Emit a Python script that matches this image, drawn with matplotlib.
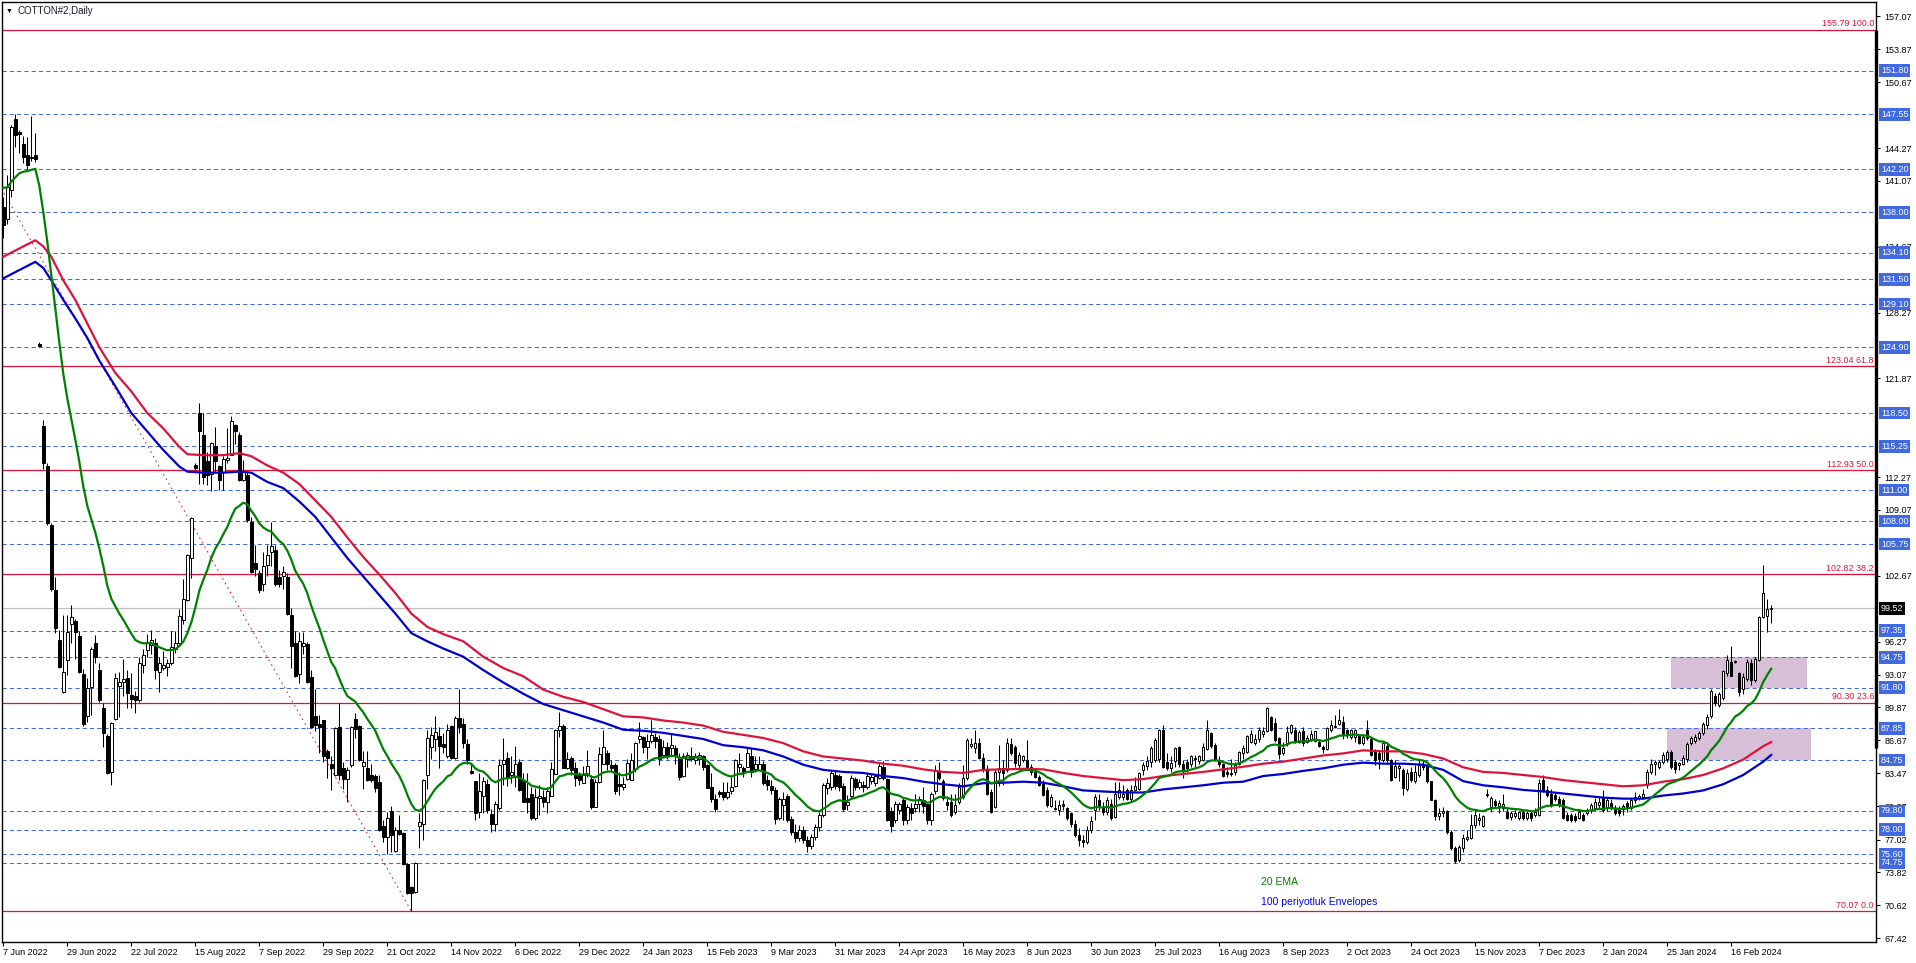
import numpy as np
import pandas as pd
import matplotlib
matplotlib.use("Agg")
import matplotlib.pyplot as plt
from matplotlib.patches import Rectangle
from matplotlib import transforms

plt.rcParams['font.family'] = ['Liberation Sans', 'DejaVu Sans']

# daily OHLC, one value per bar (443 bars, 7 Jun 2022 .. early Mar 2024)
opens = [
    138.5, 137.4, 140.2, 147.1, 145.8, 144.7, 143.6, 143.4, 143.6, 125.2,
    117.2, 113.3, 107.6, 101.3, 96.4, 91.4, 94.5, 98.0, 98.3, 96.8,
    93.1, 89.0, 91.9, 96.1, 93.5, 89.8, 87.1, 83.6, 88.7, 92.0,
    92.3, 92.7, 91.1, 91.0, 90.6, 94.0, 95.5, 95.9, 96.1, 93.3,
    93.7, 93.8, 94.2, 95.6, 96.1, 98.4, 100.3, 104.4, 113.4, 118.5,
    116.4, 113.8, 112.6, 115.3, 113.3, 112.8, 113.9, 114.4, 117.3, 116.4,
    112.0, 112.5, 107.9, 103.9, 102.9, 101.9, 103.7, 105.0, 105.2, 102.6,
    102.7, 102.6, 98.9, 96.1, 93.1, 95.8, 96.0, 92.8, 89.0, 88.3,
    88.6, 85.6, 84.4, 83.3, 88.0, 84.0, 82.9, 84.3, 88.7, 88.1,
    84.2, 84.0, 83.3, 83.2, 82.6, 78.3, 77.3, 79.8, 75.9, 78.0,
    77.7, 74.6, 72.4, 71.9, 78.3, 78.5, 83.3, 86.0, 86.8, 87.1,
    86.3, 85.1, 88.1, 85.0, 88.8, 88.3, 86.3, 83.7, 82.7, 79.7,
    81.3, 82.4, 79.5, 78.5, 80.1, 84.4, 85.0, 83.3, 83.1, 84.6,
    82.8, 81.1, 81.5, 79.1, 81.1, 81.2, 80.7, 81.3, 83.4, 87.7,
    88.1, 84.0, 85.0, 84.0, 83.3, 82.5, 83.3, 82.9, 80.2, 82.6,
    84.4, 85.4, 84.3, 84.3, 82.4, 82.1, 82.9, 82.8, 83.9, 86.8,
    87.0, 86.0, 86.6, 87.0, 86.8, 85.2, 86.0, 85.9, 85.9, 85.0,
    83.2, 84.9, 85.1, 84.8, 84.9, 85.1, 84.3, 82.1, 81.0, 81.6,
    81.6, 81.2, 81.7, 82.2, 84.1, 84.0, 84.1, 85.1, 83.9, 83.8,
    84.4, 82.8, 82.2, 81.8, 79.1, 80.4, 81.3, 79.0, 77.8, 77.2,
    78.0, 77.0, 76.4, 77.3, 78.2, 79.4, 82.0, 82.1, 83.3, 83.2,
    82.2, 80.4, 81.3, 82.9, 82.1, 82.3, 82.1, 82.7, 82.5, 83.0,
    84.1, 82.9, 79.8, 78.9, 79.9, 80.9, 78.9, 80.1, 80.1, 80.5,
    80.9, 80.5, 78.9, 81.7, 83.7, 82.7, 80.7, 80.7, 79.7, 80.7,
    81.2, 83.0, 86.1, 85.9, 86.4, 85.0, 83.9, 81.6, 80.2, 83.6,
    84.0, 83.8, 86.3, 86.0, 84.3, 84.8, 84.8, 84.1, 83.6, 83.1,
    82.4, 81.8, 80.3, 80.1, 79.9, 80.5, 80.1, 79.6, 78.5, 77.5,
    77.0, 76.8, 78.0, 79.9, 80.9, 80.2, 79.7, 80.5, 79.2, 81.2,
    81.2, 81.8, 81.0, 81.8, 81.9, 83.8, 84.2, 84.6, 84.8, 84.9,
    87.7, 84.6, 84.0, 84.7, 86.0, 84.4, 84.6, 84.4, 84.9, 84.7,
    84.8, 85.8, 87.4, 86.2, 84.8, 84.4, 83.6, 83.5, 83.6, 84.4,
    85.4, 85.5, 86.5, 86.4, 86.8, 87.3, 87.6, 88.9, 88.4, 86.9,
    85.4, 86.4, 87.5, 87.7, 86.5, 87.6, 86.5, 86.8, 86.6, 86.5,
    86.0, 85.8, 87.7, 88.0, 88.3, 88.5, 87.7, 87.0, 87.0, 87.1,
    86.4, 87.7, 86.8, 85.6, 85.4, 84.8, 86.1, 84.8, 83.1, 84.0,
    83.8, 81.9, 83.6, 82.7, 83.3, 84.3, 84.2, 82.7, 80.9, 79.3,
    79.6, 79.8, 77.8, 76.2, 75.0, 76.2, 77.1, 77.2, 78.4, 78.9,
    78.3, 81.4, 80.2, 80.8, 80.3, 80.1, 79.7, 79.2, 79.3, 79.1,
    79.7, 79.1, 79.6, 79.4, 79.4, 82.8, 81.8, 81.5, 81.4, 81.0,
    80.9, 79.4, 79.4, 79.3, 79.1, 79.4, 79.6, 79.9, 80.1, 80.4,
    81.2, 80.1, 80.6, 80.1, 79.9, 80.0, 80.6, 80.1, 80.9, 81.1,
    81.2, 82.3, 83.6, 84.4, 84.1, 84.6, 84.9, 85.5, 84.6, 84.3,
    84.4, 84.9, 86.4, 86.6, 86.9, 87.4, 88.2, 89.0, 91.0, 90.1,
    90.8, 93.2, 94.3, 94.3, 93.2, 91.7, 92.6, 94.2, 92.5, 94.5,
    98.7, 98.8, 99.45,
]
highs = [
    139.5, 141.6, 146.5, 147.6, 146.0, 145.4, 145.3, 147.4, 145.7, 125.4,
    117.8, 113.6, 107.8, 102.6, 97.4, 98.9, 98.9, 99.8, 98.5, 97.3,
    93.6, 92.7, 95.7, 96.9, 94.2, 90.3, 87.3, 88.5, 93.2, 93.3,
    94.6, 93.5, 93.2, 91.5, 94.8, 95.6, 97.0, 97.4, 96.6, 94.8,
    95.4, 94.6, 97.3, 97.3, 99.4, 102.4, 104.8, 108.4, 113.6, 119.5,
    118.5, 114.7, 115.7, 117.1, 113.4, 114.3, 117.0, 118.2, 117.4, 116.7,
    113.9, 112.9, 108.4, 105.7, 103.2, 105.0, 105.7, 107.9, 105.7, 103.2,
    103.6, 102.9, 99.5, 97.3, 97.2, 97.2, 96.2, 93.5, 91.7, 89.1,
    88.6, 85.8, 85.1, 88.0, 90.3, 84.6, 84.1, 88.1, 89.3, 88.2,
    85.6, 85.6, 84.4, 83.4, 83.3, 78.9, 79.7, 80.3, 78.2, 79.4,
    77.8, 74.7, 72.5, 74.8, 79.6, 82.9, 87.7, 88.0, 89.0, 88.0,
    87.4, 88.3, 88.2, 89.0, 91.7, 88.8, 86.8, 84.4, 82.7, 83.5,
    83.1, 82.9, 80.0, 80.8, 84.9, 86.9, 85.5, 85.1, 86.1, 84.9,
    83.5, 83.5, 82.1, 82.0, 82.3, 81.8, 82.1, 84.6, 87.8, 89.4,
    88.3, 85.5, 85.1, 84.6, 83.6, 84.2, 85.7, 83.3, 82.9, 86.0,
    87.7, 85.7, 84.8, 84.5, 83.6, 83.1, 84.9, 85.4, 86.5, 88.5,
    87.1, 87.3, 88.6, 87.4, 87.2, 86.7, 86.5, 87.3, 86.2, 85.4,
    85.4, 85.5, 86.0, 85.4, 85.5, 85.2, 84.4, 83.5, 81.5, 81.8,
    82.6, 82.6, 83.1, 84.9, 85.4, 84.2, 85.9, 85.9, 85.1, 85.1,
    84.7, 83.3, 82.8, 82.1, 81.2, 81.6, 81.5, 79.3, 78.5, 78.4,
    78.3, 77.4, 77.6, 78.5, 79.7, 82.5, 83.0, 83.8, 83.7, 83.4,
    82.5, 81.4, 83.3, 83.1, 82.9, 82.7, 83.4, 83.4, 83.4, 84.5,
    84.7, 83.0, 80.2, 80.8, 80.7, 81.2, 80.5, 80.6, 81.5, 81.3,
    82.1, 80.6, 81.6, 84.3, 84.6, 82.9, 81.3, 81.5, 81.5, 82.5,
    84.3, 86.9, 86.9, 87.7, 86.9, 85.4, 84.3, 81.9, 83.8, 86.2,
    84.8, 86.9, 86.9, 86.2, 85.5, 85.2, 86.7, 84.4, 83.9, 83.3,
    82.8, 82.1, 81.5, 80.9, 80.9, 80.9, 80.2, 79.7, 78.9, 78.1,
    77.5, 78.3, 79.3, 81.5, 81.5, 80.7, 81.2, 81.0, 82.6, 82.6,
    82.3, 82.0, 82.3, 83.1, 83.6, 84.6, 85.1, 86.1, 86.9, 87.8,
    88.2, 85.4, 85.1, 86.0, 86.1, 84.8, 84.9, 85.2, 85.2, 85.2,
    86.4, 88.6, 87.5, 86.4, 85.1, 84.5, 84.1, 84.9, 84.6, 85.6,
    86.2, 87.2, 87.7, 87.3, 88.0, 88.0, 89.9, 89.0, 88.8, 87.0,
    86.5, 88.1, 88.3, 88.0, 87.7, 88.0, 87.2, 87.7, 87.6, 86.8,
    86.2, 88.0, 88.6, 89.1, 89.7, 89.0, 87.8, 87.8, 87.8, 87.3,
    87.3, 88.6, 87.0, 85.8, 85.6, 86.6, 86.4, 84.9, 84.8, 84.4,
    84.0, 83.9, 84.1, 84.3, 84.9, 84.8, 84.4, 82.7, 81.0, 80.1,
    80.2, 79.9, 78.0, 76.4, 76.5, 77.6, 78.0, 79.5, 79.9, 79.6,
    79.4, 81.9, 81.3, 81.0, 80.9, 81.5, 80.1, 79.8, 79.9, 79.8,
    79.9, 79.8, 79.8, 80.1, 82.9, 83.3, 82.2, 81.9, 81.6, 81.3,
    81.1, 79.7, 79.6, 79.6, 79.9, 79.6, 80.1, 80.6, 81.1, 81.2,
    81.8, 81.1, 81.0, 80.4, 80.3, 80.5, 80.8, 81.1, 81.6, 81.5,
    81.9, 83.9, 84.9, 84.8, 84.8, 85.5, 85.7, 85.7, 84.8, 84.6,
    85.2, 86.5, 87.1, 87.3, 87.6, 88.5, 89.2, 91.7, 91.3, 91.4,
    93.5, 95.0, 95.8, 94.5, 93.3, 93.2, 94.6, 94.6, 94.8, 98.8,
    103.7, 100.4, 99.8,
]
lows = [
    135.5, 136.9, 139.5, 144.4, 143.8, 142.8, 142.2, 143.0, 142.9, 124.9,
    113.1, 107.6, 101.2, 97.1, 93.7, 91.3, 93.0, 96.1, 94.6, 93.2,
    88.1, 88.5, 89.1, 94.2, 90.4, 86.0, 83.4, 82.3, 88.6, 88.9,
    91.0, 89.8, 89.8, 89.3, 90.4, 93.2, 94.8, 95.1, 92.6, 91.4,
    93.5, 92.9, 94.0, 95.2, 96.0, 98.0, 100.2, 102.5, 113.0, 111.6,
    111.6, 111.5, 110.9, 112.8, 111.0, 111.0, 113.6, 114.4, 115.5, 111.9,
    111.9, 107.9, 102.9, 102.7, 101.0, 101.2, 102.7, 103.6, 101.7, 101.6,
    101.4, 98.9, 93.7, 92.8, 92.2, 95.1, 92.2, 87.9, 87.6, 85.4,
    84.6, 83.0, 81.8, 83.2, 82.8, 81.9, 80.7, 84.1, 86.9, 84.7,
    81.9, 82.7, 82.6, 81.6, 77.9, 76.8, 75.6, 75.8, 75.8, 77.5,
    74.5, 71.7, 70.07, 71.8, 76.2, 77.0, 81.9, 84.9, 85.6, 84.0,
    85.4, 85.0, 84.9, 84.9, 87.4, 85.9, 84.4, 83.4, 78.9, 79.1,
    79.6, 79.6, 77.8, 77.9, 79.9, 82.3, 82.2, 82.5, 82.1, 81.7,
    80.7, 79.6, 78.9, 78.9, 79.4, 80.2, 79.6, 81.3, 83.4, 87.0,
    84.0, 83.9, 83.3, 82.2, 82.3, 82.5, 83.1, 80.0, 80.2, 82.5,
    84.4, 83.8, 83.6, 81.5, 81.4, 81.8, 82.8, 82.8, 83.6, 86.4,
    85.4, 84.9, 86.4, 85.9, 84.3, 85.0, 84.9, 85.2, 84.4, 82.8,
    83.1, 84.1, 84.7, 84.4, 84.3, 83.8, 82.0, 80.7, 79.7, 81.2,
    80.9, 81.0, 81.5, 82.1, 83.6, 83.1, 84.1, 83.1, 83.6, 83.8,
    82.3, 81.8, 81.5, 78.5, 78.9, 78.9, 78.7, 77.5, 76.8, 76.9,
    76.7, 75.8, 76.1, 77.0, 77.9, 79.2, 81.5, 81.8, 81.9, 81.7,
    79.8, 79.9, 81.1, 81.8, 81.9, 81.6, 81.9, 82.4, 82.2, 82.9,
    82.8, 78.8, 77.8, 78.6, 79.5, 78.4, 78.5, 78.9, 79.7, 79.7,
    79.6, 78.5, 78.4, 81.5, 82.8, 80.9, 79.9, 79.2, 79.5, 80.5,
    81.0, 82.8, 85.9, 85.4, 84.9, 83.6, 81.4, 79.6, 80.1, 82.2,
    82.3, 83.6, 85.2, 84.1, 83.8, 84.6, 83.8, 83.3, 83.0, 82.2,
    81.3, 80.2, 80.2, 79.9, 79.4, 79.9, 78.9, 78.2, 77.3, 76.4,
    76.3, 76.6, 77.7, 78.9, 79.9, 79.4, 79.4, 78.9, 79.1, 81.0,
    80.9, 80.9, 80.7, 81.7, 81.8, 83.3, 83.8, 84.1, 84.6, 84.6,
    84.0, 83.8, 83.6, 84.1, 84.1, 83.0, 83.6, 84.1, 84.1, 84.4,
    84.7, 85.7, 85.9, 84.7, 84.1, 83.1, 83.1, 83.2, 83.3, 84.3,
    84.9, 85.4, 86.4, 86.2, 86.5, 87.0, 87.5, 87.6, 86.5, 84.9,
    85.2, 86.1, 87.3, 86.4, 86.4, 86.1, 86.4, 86.6, 86.5, 86.0,
    85.4, 85.7, 87.5, 87.9, 88.2, 86.8, 86.9, 86.8, 86.5, 86.3,
    86.2, 86.7, 85.1, 84.3, 83.9, 84.6, 84.6, 82.7, 83.0, 82.7,
    81.4, 81.7, 82.6, 82.5, 83.1, 83.8, 82.5, 80.9, 78.9, 78.9,
    79.2, 77.6, 76.0, 74.7, 74.8, 75.8, 76.9, 77.1, 78.1, 78.4,
    78.2, 81.2, 79.7, 80.1, 79.6, 79.8, 79.0, 78.9, 79.1, 78.9,
    78.9, 78.9, 78.8, 79.2, 79.3, 81.6, 81.2, 80.2, 80.8, 80.2,
    79.0, 78.8, 78.7, 78.7, 79.0, 78.8, 79.4, 79.6, 79.9, 80.1,
    79.7, 79.8, 79.9, 79.4, 79.3, 79.4, 79.7, 79.9, 80.6, 80.9,
    81.0, 82.0, 83.4, 83.3, 83.9, 84.4, 84.6, 83.9, 83.5, 83.8,
    84.3, 84.6, 86.2, 86.4, 86.7, 87.2, 87.8, 88.8, 90.0, 89.9,
    90.6, 92.9, 92.9, 94.2, 91.0, 91.2, 92.4, 92.1, 92.3, 94.4,
    98.6, 97.2, 98.1,
]
closes = [
    136.8, 140.5, 146.3, 145.5, 145.6, 143.4, 142.6, 143.3, 143.2, 125.0,
    113.6, 107.8, 101.4, 97.6, 93.8, 93.3, 97.2, 98.7, 97.2, 93.3,
    88.3, 91.8, 95.6, 94.8, 90.6, 87.4, 83.5, 88.4, 92.7, 92.3,
    92.6, 91.3, 90.7, 90.6, 94.2, 95.0, 96.2, 96.4, 93.5, 94.2,
    94.0, 94.2, 95.7, 96.1, 98.8, 100.4, 104.7, 108.3, 113.2, 116.8,
    112.3, 112.5, 115.6, 113.8, 112.0, 114.0, 114.1, 117.7, 116.8, 112.0,
    112.8, 108.1, 103.0, 103.3, 101.3, 103.6, 104.7, 105.6, 101.9, 101.9,
    103.0, 99.0, 95.8, 92.9, 96.3, 96.1, 92.3, 88.0, 88.2, 88.0,
    85.1, 85.0, 84.0, 87.9, 83.3, 82.9, 83.8, 88.0, 87.8, 84.8,
    84.6, 82.8, 82.8, 82.0, 78.0, 77.3, 79.1, 77.5, 78.0, 77.6,
    74.6, 71.8, 71.8, 74.7, 78.7, 82.8, 86.9, 87.2, 87.5, 86.1,
    86.0, 87.7, 85.0, 88.8, 88.0, 86.4, 84.8, 83.5, 79.6, 81.7,
    82.7, 79.9, 78.5, 80.5, 84.3, 84.8, 83.1, 83.6, 84.4, 81.8,
    80.7, 80.7, 79.1, 81.2, 81.3, 80.7, 81.7, 83.9, 87.7, 88.1,
    84.0, 84.9, 83.8, 83.0, 82.8, 83.3, 84.2, 80.2, 82.6, 85.3,
    86.0, 84.4, 84.0, 81.7, 82.2, 82.4, 84.5, 84.8, 86.4, 87.1,
    86.0, 86.6, 87.2, 86.6, 84.9, 86.0, 85.2, 86.2, 85.1, 83.1,
    85.1, 85.2, 84.9, 85.1, 85.2, 84.1, 82.0, 81.0, 80.0, 81.5,
    81.2, 81.6, 82.1, 84.8, 84.4, 83.6, 85.4, 83.6, 84.4, 84.4,
    82.5, 82.3, 81.8, 79.0, 81.0, 81.0, 78.9, 77.8, 77.2, 78.0,
    77.0, 76.4, 77.3, 78.2, 79.4, 82.3, 82.5, 83.5, 82.2, 82.1,
    80.0, 80.7, 83.0, 82.1, 82.6, 82.1, 83.2, 83.1, 83.2, 84.2,
    83.0, 78.9, 78.3, 80.5, 80.5, 78.9, 80.2, 79.6, 80.5, 81.0,
    80.3, 78.9, 81.5, 83.7, 83.0, 81.1, 80.4, 79.4, 80.4, 82.1,
    83.0, 86.7, 86.3, 86.4, 85.0, 83.9, 81.5, 79.7, 83.6, 84.0,
    83.5, 86.4, 85.4, 84.5, 85.2, 85.1, 84.1, 83.6, 83.1, 82.3,
    81.4, 80.4, 81.2, 80.0, 80.4, 80.3, 79.1, 78.5, 77.5, 77.0,
    76.8, 78.0, 78.8, 81.2, 80.3, 79.7, 80.9, 79.1, 81.5, 81.8,
    81.5, 81.0, 81.8, 82.2, 83.5, 84.3, 84.7, 85.9, 86.7, 87.7,
    84.1, 84.0, 84.5, 85.9, 84.4, 83.8, 84.0, 85.1, 85.0, 85.1,
    86.0, 87.7, 86.1, 84.8, 84.4, 83.2, 83.4, 83.4, 84.3, 85.5,
    85.9, 87.1, 87.3, 86.8, 87.7, 87.6, 89.8, 87.7, 86.7, 85.3,
    85.9, 87.5, 88.2, 86.6, 87.5, 86.4, 86.9, 87.3, 87.6, 86.1,
    85.8, 87.9, 88.2, 88.0, 88.6, 87.3, 87.2, 87.7, 87.7, 86.4,
    87.0, 86.9, 85.2, 84.8, 84.9, 86.4, 84.8, 82.8, 84.2, 84.2,
    82.0, 83.5, 82.8, 83.6, 84.3, 84.1, 82.7, 80.9, 79.3, 79.6,
    79.8, 77.8, 76.2, 74.9, 76.3, 77.2, 77.3, 78.4, 79.4, 79.1,
    79.3, 81.5, 81.1, 80.4, 80.6, 80.5, 79.1, 79.6, 79.6, 79.7,
    79.1, 79.6, 79.1, 79.7, 82.5, 81.7, 81.4, 80.4, 81.0, 80.4,
    79.1, 78.9, 78.9, 78.9, 79.7, 78.9, 79.9, 80.4, 80.7, 80.7,
    79.9, 80.9, 80.1, 79.6, 79.6, 80.3, 80.1, 80.9, 81.2, 81.3,
    81.5, 83.6, 84.4, 84.6, 84.6, 85.2, 85.5, 84.1, 83.9, 84.5,
    85.0, 86.3, 86.9, 87.0, 87.4, 88.3, 88.9, 91.5, 90.3, 91.2,
    93.4, 94.5, 92.9, 94.3, 91.4, 92.8, 94.3, 92.5, 94.6, 98.7,
    101.0, 99.4, 99.52,
]

# 100-period envelope bands, read at sample bars
env_bars = [0, 3, 5, 8, 10, 12, 15, 18, 21, 24, 28, 32, 36, 40, 44, 46, 50, 55, 59, 62,
            66, 70, 74, 78, 82, 86, 90, 94, 98, 102, 106, 110, 115, 120, 125, 130, 135, 140, 145, 150,
            155, 160, 165, 170, 175, 180, 185, 190, 195, 200, 205, 210, 215, 220, 225, 230, 235, 240, 245, 250,
            255, 260, 265, 270, 275, 280, 285, 290, 295, 300, 305, 310, 315, 320, 325, 330, 335, 340, 345, 350,
            355, 360, 365, 370, 375, 380, 385, 390, 395, 400, 405, 410, 415, 420, 425, 430, 435, 440, 442]
env_upper = [133.7, 134.3, 134.7, 135.3, 134.7, 133.7, 131.4, 129.5, 127.2, 124.9, 122.4, 120.6, 118.5, 117.0, 115.2, 114.5, 114.4, 114.4, 114.6, 114.3,
             113.4, 112.7, 111.6, 110.0, 108.4, 106.4, 104.5, 102.8, 101.0, 99.0, 97.7, 97.0, 96.3, 94.8, 93.7, 92.9, 91.6, 90.9, 90.4, 89.7,
             89.0, 88.9, 88.6, 88.4, 88.1, 87.5, 87.2, 86.9, 86.4, 85.6, 85.1, 84.9, 84.7, 84.4, 84.2, 83.85, 83.6, 83.5, 83.8, 83.85,
             83.9, 83.85, 83.5, 83.2, 83.0, 82.8, 82.9, 83.2, 83.4, 83.6, 83.85, 84.1, 84.4, 84.6, 84.9, 85.2, 85.4, 85.7, 85.6, 85.6,
             85.35, 84.9, 84.05, 83.6, 83.5, 83.3, 83.1, 82.8, 82.6, 82.4, 82.2, 82.3, 82.65, 82.9, 83.3, 83.95, 84.8, 86.1, 86.5]
env_lower = [131.6, 132.2, 132.6, 133.2, 132.6, 131.4, 129.5, 127.7, 125.8, 123.6, 121.1, 118.5, 116.7, 114.9, 113.3, 112.8, 112.7, 112.7, 112.8, 112.7,
             111.8, 111.2, 109.9, 108.4, 106.4, 104.4, 102.6, 100.8, 99.0, 97.1, 96.3, 95.6, 94.8, 93.5, 92.3, 91.2, 90.2, 89.6, 89.0, 88.4,
             87.7, 87.6, 87.4, 87.1, 86.8, 86.2, 86.0, 85.7, 85.1, 84.3, 83.8, 83.6, 83.5, 83.2, 83.0, 82.65, 82.4, 82.2, 82.5, 82.55,
             82.65, 82.55, 82.2, 81.8, 81.7, 81.6, 81.6, 81.9, 82.1, 82.3, 82.55, 82.65, 83.2, 83.4, 83.7, 83.95, 84.3, 84.5, 84.4, 84.4,
             84.3, 83.8, 82.7, 82.3, 82.1, 81.85, 81.7, 81.5, 81.3, 81.1, 81.0, 81.0, 81.3, 81.5, 81.8, 82.4, 83.3, 84.6, 85.25]
ema_seed = 140.8  # 20 EMA value just before the first visible bar

# horizontal levels
support_levels = [151.80, 147.55, 142.20, 138.00, 134.10, 131.50, 129.10, 124.90, 118.50, 115.25,
                  111.00, 108.00, 105.75, 97.35, 94.75, 91.80, 87.85, 84.75, 79.80, 78.00, 75.60, 74.75]
fib_prices = [155.79, 123.04, 112.93, 102.82, 90.30, 70.07]
fib_ratios = ["100.0", "61.8", "50.0", "38.2", "23.6", "0.0"]
fib_trend = ([-23, 102], [155.79, 70.07])
last_price = 99.52

price_ticks = [157.07, 153.87, 150.67, 144.27, 141.07, 134.67, 128.27, 121.87, 112.27, 109.07,
               102.67, 96.27, 93.07, 89.87, 86.67, 83.47, 80.27, 77.02, 73.82, 70.62, 67.42]
date_labels = ["7 Jun 2022", "29 Jun 2022", "22 Jul 2022", "15 Aug 2022", "7 Sep 2022", "29 Sep 2022",
               "21 Oct 2022", "14 Nov 2022", "6 Dec 2022", "29 Dec 2022", "24 Jan 2023", "15 Feb 2023",
               "9 Mar 2023", "31 Mar 2023", "24 Apr 2023", "16 May 2023", "8 Jun 2023", "30 Jun 2023",
               "25 Jul 2023", "16 Aug 2023", "8 Sep 2023", "2 Oct 2023", "24 Oct 2023", "15 Nov 2023",
               "7 Dec 2023", "2 Jan 2024", "25 Jan 2024", "16 Feb 2024"]

# shaded zones: (first bar, last bar, low, high)
zones = [(417, 451, 91.80, 94.75), (416, 452, 84.75, 87.85)]

W, H = 1916, 963
fig = plt.figure(figsize=(W / 100, H / 100), dpi=100)
ax = fig.add_axes([2 / W, 21 / H, 1874 / W, 940 / H])
ax.set_xlim(-0.33, 468.2)
ax.set_ylim(67.06, 158.47)

x = np.arange(len(closes))
o = np.array(opens)
c = np.array(closes)

for lv in support_levels:
    ax.axhline(lv, color="#4169E1", lw=0.75, dashes=(4, 3), zorder=1)
for fp in fib_prices:
    ax.axhline(fp, color="#DC143C", lw=0.9, zorder=1)
ax.axhline(last_price, color="#C0C0C0", lw=0.9, zorder=1)
ax.plot(fib_trend[0], fib_trend[1], color="#DC143C", lw=0.75, dashes=(1.5, 3.5), zorder=1)

for b0, b1, lo, hi in zones:
    ax.add_patch(Rectangle((b0, lo), b1 - b0, hi - lo, facecolor="#D8BFD8", edgecolor="none", zorder=0.5))

# candles
ax.vlines(x, lows, highs, color="black", lw=0.75, zorder=3)
body_lo = np.minimum(o, c)
body_h = np.maximum(np.abs(c - o), 0.06)
ax.bar(x, body_h, bottom=body_lo, width=0.62, color=np.where(c >= o, "white", "black"),
       edgecolor="black", linewidth=0.7, zorder=3.5)

# indicators
ema = pd.Series([ema_seed] + closes).ewm(span=20, adjust=False).mean().to_numpy()[1:]
ax.plot(env_bars, env_upper, color="#DC143C", lw=1.6, zorder=4)
ax.plot(env_bars, env_lower, color="#0000CD", lw=1.6, zorder=4)
ax.plot(x, ema, color="#008000", lw=1.6, zorder=4.5)

# frame and axes
for s in ax.spines.values():
    s.set_color("black")
    s.set_linewidth(1.0)
ax.yaxis.tick_right()
ax.set_yticks(price_ticks)
ax.set_yticklabels([f"{v:.2f}" for v in price_ticks])
ax.tick_params(axis="y", length=3, width=0.8, pad=3, labelsize=6.5, colors="black")
ax.set_xticks(np.arange(len(date_labels)) * 16)
ax.set_xticklabels(date_labels)
ax.tick_params(axis="x", length=3, width=0.8, pad=1.5, labelsize=6.5)
for lab in ax.get_xticklabels():
    lab.set_horizontalalignment("left")

# thick marker on the price scale
ax.plot([468.1, 468.1], [85.9, 155.79], color="black", lw=2.4, clip_on=False, zorder=6,
        solid_capstyle="butt")

bt = transforms.blended_transform_factory(ax.transAxes, ax.transData)
for lv in support_levels:
    ax.text(1 + 5 / 1874, lv, f"{lv:.2f}", transform=bt, color="white", fontsize=6.5, va="center",
            ha="left", clip_on=False, zorder=7,
            bbox=dict(boxstyle="square,pad=0.2", fc="#4169E1", ec="none"))
ax.text(1 + 5 / 1874, last_price, f"{last_price:.2f}", transform=bt, color="white", fontsize=6.5,
        va="center", ha="left", clip_on=False, zorder=7,
        bbox=dict(boxstyle="square,pad=0.2", fc="black", ec="none"))
for fp, fr in zip(fib_prices, fib_ratios):
    ax.text(1 - 2 / 1874, fp + 0.15, f"{fp:.2f} {fr}", transform=bt, color="#DC143C", fontsize=6.4,
            va="bottom", ha="right", zorder=5)

ax.text(314.5, 72.9, "20 EMA", color="#008000", fontsize=7.5, va="center", ha="left", zorder=5)
ax.text(314.5, 70.95, "100 periyotluk Envelopes", color="#0000E6", fontsize=7.5, va="center",
        ha="left", zorder=5)

fig.text(9 / W, 1 - 11 / H, "\u25BC", fontsize=5, va="center", ha="center", color="black")
fig.text(17 / W, 1 - 11 / H, "COTTON#2,Daily", fontsize=7, va="center", ha="left", color="#1a1a2a")

fig.savefig("out.png", dpi=100, facecolor="white")
